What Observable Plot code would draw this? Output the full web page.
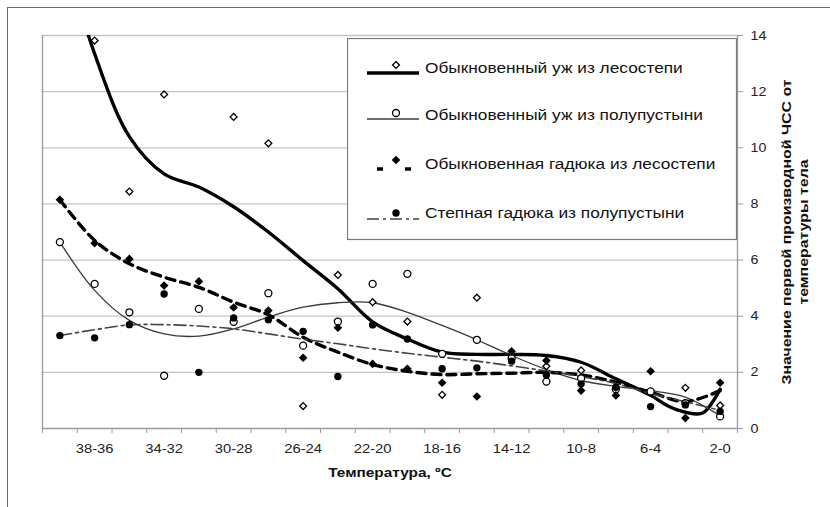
<!DOCTYPE html>
<html><head><meta charset="utf-8">
<script src="https://cdn.jsdelivr.net/npm/d3@7"></script>
<script src="https://cdn.jsdelivr.net/npm/@observablehq/plot@0.6"></script>
<style>
body{margin:0;background:#fff;}
#wrap{position:relative;width:830px;height:507px;overflow:hidden;font-family:"Liberation Sans",Arial,sans-serif;background:#fff;}
#frame{position:absolute;left:7px;top:7px;width:840px;height:520px;border-top:1.5px solid #6a6a6a;border-left:1.5px solid #6a6a6a;pointer-events:none;}
#chart{position:absolute;left:0;top:0;}
#legend{position:absolute;left:347px;top:38px;}
</style></head>
<body><div id="wrap"><div id="chart"></div><div id="legend"></div><div id="frame"></div></div>
<script>
// Temperature intervals (°C), left to right
const categories = ["40-38","38-36","36-34","34-32","32-30","30-28","28-26","26-24","24-22","22-20",
  "20-18","18-16","16-14","14-12","12-10","10-8","8-6","6-4","4-2","2-0"];
const yTicks = [0, 2, 4, 6, 8, 10, 12, 14];
const seriesNames = [
  "Обыкновенный уж из лесостепи",
  "Обыкновенный уж из полупустыни",
  "Обыкновенная гадюка из лесостепи",
  "Степная гадюка из полупустыни"
];
const xTitle = "Температура, ºC";
const yTitle = ["Значение первой производной ЧСС от", "температуры тела"];
// Observed values (points), one per interval
const ujForest   = [null,13.82,8.44,11.9,null,11.1,10.16,0.80,5.47,4.50,3.81,1.20,4.66,2.6,2.22,2.07,null,null,1.45,0.82];
const ujDesert   = [6.64,5.15,4.14,1.88,4.26,3.80,4.82,2.95,3.81,5.15,5.51,2.66,3.16,2.5,1.67,1.79,1.4,1.32,0.9,0.43];
const viperForest= [8.15,6.60,6.04,5.09,5.24,4.31,4.20,2.52,3.59,2.30,2.13,1.63,1.14,2.75,2.42,1.35,1.18,2.04,0.37,1.63];
const viperSteppe= [3.31,3.23,3.70,4.79,2.00,3.94,3.87,3.46,1.85,3.69,3.19,2.13,2.16,2.4,1.91,1.59,1.47,0.78,0.84,0.61];
// Trend lines (interval position, value)
const trendUjForestPos = [0,1,2,3,4,5,6,7,8,9,10,11,12,13,14,15,16,17,17.5,18,18.5,19];
const trendUjForest    = [17.5,13.35,10.4,9.07,8.6,7.9,7.0,5.98,4.98,3.8,3.19,2.72,2.64,2.64,2.6,2.36,1.77,1.18,0.8,0.58,0.55,1.4];
const trendPos = d3.range(categories.length);
const trendUjDesert   = [6.64,4.92,3.85,3.37,3.29,3.55,3.97,4.32,4.48,4.48,4.14,3.67,3.16,2.6,2.1,1.71,1.5,1.35,1.12,0.45];
const trendViperForest= [8.15,6.7,5.87,5.39,5.03,4.5,4.05,3.25,2.72,2.28,2.04,1.92,1.95,1.97,2.0,1.91,1.65,1.29,0.96,1.35];
const trendViperSteppe= [3.31,3.52,3.69,3.7,3.65,3.55,3.37,3.18,3.02,2.84,2.68,2.54,2.40,2.23,2.05,1.85,1.6,1.25,0.95,0.65];

const FONT = "Liberation Sans, Arial, sans-serif";
const STRETCH = 1.14;   // the reference type is horizontally wide
const LG_STRETCH = 1.115;
const toPts = arr => arr.map((v, i) => ({i, v})).filter(d => d.v != null);
const toTrend = (pos, arr) => arr.map((v, k) => ({i: pos[k], v}));
const boundaries = d3.range(categories.length + 1).map(k => k - 0.5);
const labelIdx = categories.map((c, i) => i).filter(i => i % 2 === 1);

const styles = [
  {stroke: "#000", strokeWidth: 3.4},
  {stroke: "#3a3a3a", strokeWidth: 1.3},
  {stroke: "#000", strokeWidth: 3.4, strokeDasharray: "9,6"},
  {stroke: "#444", strokeWidth: 1.6, strokeDasharray: "12,4,3,4"}
];
const trends = [
  toTrend(trendUjForestPos, trendUjForest),
  toTrend(trendPos, trendUjDesert),
  toTrend(trendPos, trendViperForest),
  toTrend(trendPos, trendViperSteppe)
];

const chart = Plot.plot({
  width: 830, height: 507,
  marginLeft: 42, marginRight: 93, marginTop: 35, marginBottom: 79,
  style: {fontFamily: FONT, background: "transparent", color: "#222"},
  x: {type: "linear", domain: [-0.5, categories.length - 0.5]},
  y: {domain: [0, 14]},
  marks: [
    Plot.ruleY(yTicks.filter(t => t > 0), {stroke: "#c4c4c4", strokeWidth: 1.3}),
    Plot.ruleX([-0.5], {stroke: "#9a9a9a", strokeWidth: 1.3}),
    Plot.ruleX([categories.length - 0.5], {stroke: "#9a9a9a", strokeWidth: 1.3}),
    Plot.ruleY([0], {stroke: "#9a9a9a", strokeWidth: 1.5}),
    Plot.axisY({anchor: "right", ticks: yTicks, tickSize: 5, tickPadding: 8, stroke: "#9a9a9a", fill: "#222", fontSize: 12.5, label: null}),
    Plot.axisX({anchor: "bottom", ticks: boundaries, tickSize: 5, tickFormat: () => "", stroke: "#9a9a9a", label: null}),
    Plot.axisX({anchor: "bottom", ticks: labelIdx, tickSize: 0, tickPadding: 15, tickFormat: i => categories[i], fill: "#222", fontSize: 13, label: null}),
    Plot.text([xTitle], {frameAnchor: "bottom", dy: 48, fontWeight: "bold", fontSize: 13.5, fill: "#111"}),
    Plot.text([yTitle[0]], {frameAnchor: "right", dx: 49, rotate: -90, textAnchor: "middle", fontWeight: "bold", fontSize: 13, fill: "#111"}),
    Plot.text([yTitle[1]], {frameAnchor: "right", dx: 66, rotate: -90, textAnchor: "middle", fontWeight: "bold", fontSize: 13, fill: "#111"}),
    ...trends.map((t, k) => Plot.line(t, {x: "i", y: "v", curve: "catmull-rom", clip: true, ...styles[k]})),
    Plot.dot(toPts(ujForest), {x: "i", y: "v", symbol: "diamond2", r: 3.1, stroke: "#000", strokeWidth: 1.3, fill: "#fff"}),
    Plot.dot(toPts(ujDesert), {x: "i", y: "v", symbol: "circle", r: 3.5, stroke: "#000", strokeWidth: 1.3, fill: "#fff"}),
    Plot.dot(toPts(viperForest), {x: "i", y: "v", symbol: "diamond2", r: 3.9, fill: "#000", stroke: "none"}),
    Plot.dot(toPts(viperSteppe), {x: "i", y: "v", symbol: "circle", r: 3.7, fill: "#000", stroke: "none"})
  ]
});
document.getElementById("chart").appendChild(chart);

// Legend
const lg = d3.select("#legend").append("svg").attr("width", 391).attr("height", 203)
  .style("font-family", FONT);
lg.append("rect").attr("x", 0.5).attr("y", 0.5).attr("width", 389).attr("height", 201)
  .attr("fill", "#fff").attr("stroke", "#7a7a7a").attr("stroke-width", 1.2);
const rowsY = [35, 81, 131, 181];
const symY = [27, 75, 122, 175];
const textY = [30, 77, 126, 175];
seriesNames.forEach((name, k) => {
  const st = styles[k];
  lg.append("line").attr("x1", 20).attr("x2", 72).attr("y1", rowsY[k]).attr("y2", rowsY[k])
    .attr("stroke", st.stroke).attr("stroke-width", st.strokeWidth)
    .attr("stroke-dasharray", k === 2 ? "0,10,6,22,6,8" : (st.strokeDasharray || null));
  const sym = k % 2 === 0 ? d3.symbolDiamond2 : d3.symbolCircle;
  const r = [3.1, 3.5, 3.9, 3.7][k];
  const filled = k >= 2;
  lg.append("path").attr("d", d3.symbol(sym, Math.PI * r * r)())
    .attr("transform", `translate(49,${symY[k]})`)
    .attr("fill", filled ? "#000" : "#fff").attr("stroke", filled ? "none" : "#000").attr("stroke-width", 1.3);
  lg.append("text").attr("x", 78).attr("y", textY[k]).attr("dy", "0.35em")
    .attr("font-size", 15.5).attr("fill", "#111").text(name);
});

// Widen the horizontal text like the reference's type
function widen(sel, f) {
  sel.each(function() {
    const tr = this.getAttribute("transform") || "";
    if (/rotate/.test(tr)) return;
    const len = this.getComputedTextLength();
    if (len > 0) {
      this.setAttribute("textLength", (len * f).toFixed(2));
      this.setAttribute("lengthAdjust", "spacingAndGlyphs");
    }
  });
}
widen(d3.select(chart).selectAll("text"), STRETCH);
widen(lg.selectAll("text"), LG_STRETCH);
// rotated title: stretch along its length to the reference's length
const rotNodes = d3.select(chart).selectAll("text")
  .filter(function() { return /rotate/.test(this.getAttribute("transform") || ""); }).nodes();
if (rotNodes.length === 2) {
  const k = 305 / rotNodes[0].getComputedTextLength();
  rotNodes.forEach(n => {
    n.setAttribute("textLength", (n.getComputedTextLength() * k).toFixed(2));
    n.setAttribute("lengthAdjust", "spacingAndGlyphs");
  });
}
</script>
</body></html>
